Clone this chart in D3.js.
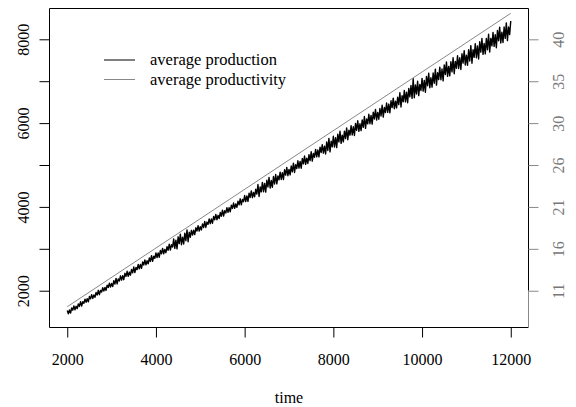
<!DOCTYPE html>
<html>
<head>
<meta charset="utf-8">
<script src="https://cdn.jsdelivr.net/npm/d3@7"></script>
<style>
  body { margin: 0; background: #fff; }
  text { font-family: "Liberation Serif", "Times New Roman", serif; }
</style>
</head>
<body>
<div id="chart"></div>
<script>
// time grid of the simulation output (every 25 steps)
var timeStart = 2000;
var timeStep = 25;

// average production
var production = [
  1529, 1450, 1539, 1466, 1591, 1536, 1636, 1545, 1628, 1573, 1686, 1625, 1738, 1635, 1736, 1699,
  1800, 1721, 1809, 1736, 1861, 1806, 1907, 1816, 1899, 1844, 1957, 1896, 2009, 1905, 2006, 1969,
  2070, 1991, 2080, 2007, 2132, 2077, 2178, 2087, 2175, 2100, 2238, 2157, 2294, 2161, 2283, 2232,
  2355, 2251, 2359, 2263, 2415, 2341, 2463, 2345, 2445, 2371, 2509, 2428, 2565, 2432, 2554, 2503,
  2625, 2521, 2629, 2533, 2685, 2612, 2734, 2616, 2716, 2642, 2780, 2699, 2835, 2702, 2824, 2773,
  2900, 2789, 2902, 2799, 2960, 2880, 3009, 2882, 2987, 2908, 3053, 2966, 3111, 2968, 3097, 3042,
  3233, 3010, 3207, 2999, 3286, 3123, 3350, 3097, 3279, 3116, 3372, 3194, 3451, 3168, 3395, 3277,
  3441, 3330, 3443, 3340, 3501, 3422, 3551, 3424, 3528, 3449, 3594, 3507, 3652, 3509, 3638, 3583,
  3712, 3600, 3713, 3610, 3771, 3692, 3821, 3694, 3799, 3720, 3865, 3778, 3923, 3779, 3908, 3853,
  3982, 3871, 3984, 3881, 4042, 3963, 4092, 3965, 4070, 3990, 4135, 4048, 4193, 4050, 4179, 4124,
  4271, 4128, 4264, 4131, 4328, 4225, 4382, 4219, 4346, 4243, 4420, 4307, 4534, 4250, 4477, 4359,
  4586, 4363, 4560, 4352, 4639, 4476, 4703, 4450, 4632, 4468, 4725, 4547, 4774, 4551, 4736, 4645,
  4830, 4655, 4816, 4653, 4886, 4758, 4943, 4744, 4893, 4766, 4975, 4836, 5045, 4822, 5007, 4915,
  5100, 4925, 5086, 4923, 5156, 5029, 5214, 5015, 5164, 5037, 5246, 5106, 5315, 5092, 5277, 5186,
  5371, 5196, 5357, 5194, 5427, 5299, 5484, 5285, 5449, 5262, 5551, 5347, 5636, 5313, 5568, 5432,
  5686, 5431, 5652, 5414, 5737, 5550, 5805, 5516, 5714, 5551, 5808, 5629, 5886, 5603, 5830, 5712,
  5939, 5716, 5913, 5705, 5992, 5829, 6056, 5802, 5984, 5821, 6078, 5900, 6157, 5874, 6101, 5983,
  6210, 5986, 6183, 5975, 6262, 6099, 6326, 6073, 6255, 6092, 6349, 6171, 6427, 6144, 6371, 6253,
  6480, 6257, 6454, 6246, 6533, 6370, 6597, 6343, 6525, 6362, 6619, 6441, 6728, 6385, 6654, 6509,
  6778, 6507, 6740, 6487, 6827, 6628, 6897, 6590, 7060, 6606, 6911, 6694, 6999, 6656, 6924, 6779,
  7066, 6763, 7020, 6737, 7114, 6891, 7188, 6845, 7082, 6859, 7195, 6952, 7289, 6906, 7203, 7040,
  7337, 7034, 7291, 7008, 7385, 7161, 7458, 7115, 7352, 7129, 7466, 7223, 7560, 7177, 7474, 7310,
  7607, 7304, 7561, 7278, 7655, 7432, 7729, 7386, 7623, 7382, 7751, 7481, 7850, 7427, 7752, 7571,
  7896, 7561, 7842, 7529, 7942, 7695, 8020, 7640, 7899, 7652, 8021, 7752, 8121, 7698, 8023, 7842,
  8166, 7831, 8112, 7799, 8212, 7965, 8290, 7911, 8170, 7923, 8292, 8023, 8392, 7969, 8294, 8112,
  8437
];

// average productivity (right axis units)
var productivityTime = [2000, 7000, 12000];
var productivity = [9.37, 26.18, 42.98];

// axis ticks
var xTicks = [2000, 4000, 6000, 8000, 10000, 12000];
var yTicks = [2000, 3000, 4000, 5000, 6000, 7000, 8000];
var yLabelTicks = [2000, 4000, 6000, 8000];
var rightTicks = [11.2, 16, 20.8, 25.6, 30.4, 35.2, 40];

var legendLabels = ["average production", "average productivity"];
var legendColors = ["#000", "#888"];

var svgWidth = 576;
var svgHeight = 407;
var margin = { top: 8.5, right: 47.5, bottom: 79.5, left: 49.5 };
var width = svgWidth - margin.left - margin.right;
var height = svgHeight - margin.top - margin.bottom;

var svg = d3.select("#chart")
  .append("svg")
  .attr("width", svgWidth)
  .attr("height", svgHeight);

var chartGroup = svg.append("g")
  .attr("transform", `translate(${margin.left}, ${margin.top})`);

var series = production.map(function (v, i) {
  return { time: timeStart + i * timeStep, value: v };
});

// scales (R pads the range by 4%)
var xScale = d3.scaleLinear().domain([1600, 12400]).range([0, width]);
var yScale = d3.scaleLinear().domain([1122, 8735]).range([height, 0]);
var yRight = d3.scaleLinear().domain([6.99, 43.53]).range([height, 0]);

// black production line
var prodLine = d3.line()
  .x(d => xScale(d.time))
  .y(d => yScale(d.value));

chartGroup.append("path")
  .datum(series)
  .attr("fill", "none")
  .attr("stroke", "#000")
  .attr("stroke-width", 1.4)
  .attr("stroke-linejoin", "round")
  .attr("d", prodLine);

// gray productivity line
var prodtyLine = d3.line()
  .x((d, i) => xScale(productivityTime[i]))
  .y(d => yRight(d));

chartGroup.append("path")
  .datum(productivity)
  .attr("fill", "none")
  .attr("stroke", "#888")
  .attr("stroke-width", 1)
  .attr("d", prodtyLine);

// box (right side below lowest right tick is gray)
chartGroup.append("path")
  .attr("d", `M${width},${yRight(rightTicks[0])}V0H0V${height}H${width}`)
  .attr("fill", "none")
  .attr("stroke", "#000")
  .attr("stroke-width", 1);

chartGroup.append("line")
  .attr("x1", width).attr("x2", width)
  .attr("y1", yRight(rightTicks[0])).attr("y2", height)
  .attr("stroke", "#888");

// bottom axis
var bottomAxis = d3.axisBottom(xScale)
  .tickValues(xTicks)
  .tickSize(10)
  .tickPadding(16)
  .tickFormat(d3.format("d"));

var gx = chartGroup.append("g")
  .attr("transform", `translate(0, ${height})`)
  .call(bottomAxis);
gx.select(".domain").remove();

// left axis, every second label is dropped like R does
var leftAxis = d3.axisLeft(yScale)
  .tickValues(yTicks)
  .tickSize(10)
  .tickPadding(0)
  .tickFormat(d => yLabelTicks.indexOf(d) >= 0 ? d : "");

var gy = chartGroup.append("g").call(leftAxis);
gy.select(".domain").remove();
gy.selectAll(".tick text")
  .attr("x", null)
  .attr("text-anchor", "middle")
  .attr("transform", "translate(-21, 0) rotate(-90)");

// right axis in gray
var rightAxis = d3.axisRight(yRight)
  .tickValues(rightTicks)
  .tickSize(10)
  .tickFormat(d => Math.round(d));

var gr = chartGroup.append("g")
  .attr("transform", `translate(${width}, 0)`)
  .call(rightAxis);
gr.select(".domain").remove();
gr.selectAll(".tick line").attr("stroke", "#888");
gr.selectAll(".tick text")
  .attr("x", null)
  .attr("fill", "#777")
  .attr("text-anchor", "middle")
  .attr("transform", "translate(24, 0) rotate(-90)");

svg.selectAll(".tick text")
  .attr("font-family", "Liberation Serif")
  .attr("font-size", 16);
gx.selectAll(".tick text").attr("dy", "0.71em");
gy.selectAll(".tick text").attr("dy", "0em");
gr.selectAll(".tick text").attr("dy", "0.71em");

// x axis title
svg.append("text")
  .attr("x", margin.left + width / 2)
  .attr("y", 403)
  .attr("text-anchor", "middle")
  .attr("font-size", 16)
  .text("time");

// legend
var legend = svg.append("g");
legendLabels.forEach(function (label, i) {
  var y = 60 + i * 19.5;
  legend.append("line")
    .attr("x1", 104).attr("x2", 135)
    .attr("y1", y).attr("y2", y)
    .attr("stroke", legendColors[i]);
  legend.append("text")
    .attr("x", 150)
    .attr("y", y + 5)
    .attr("font-size", 16.5)
    .text(label);
});
</script>
</body>
</html>
